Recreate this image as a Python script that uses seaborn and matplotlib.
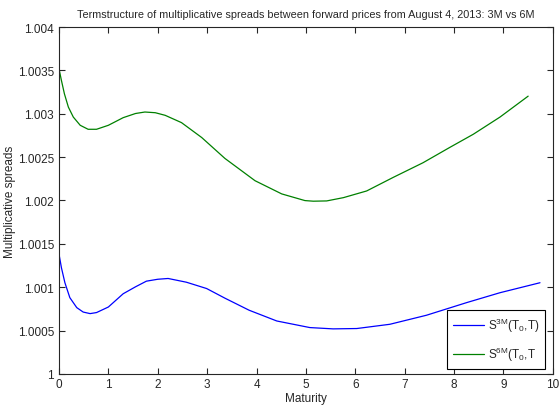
import numpy as np
import pandas as pd
import matplotlib
matplotlib.use('Agg')
import matplotlib.pyplot as plt
from matplotlib.ticker import FuncFormatter
import seaborn as sns

# values
mat_3m = [0.0, 0.05, 0.12, 0.22, 0.36, 0.49, 0.63, 0.76, 1.00, 1.30, 1.55, 1.77,
          2.00, 2.21, 2.58, 2.99, 3.36, 3.85, 4.41, 5.08, 5.55, 6.03, 6.70, 7.44,
          8.25, 8.93, 9.74]
spread_3m = [1.001384, 1.001224, 1.001052, 1.000880, 1.000765, 1.000714, 1.000696,
             1.000708, 1.000772, 1.000925, 1.001005, 1.001070, 1.001092, 1.001101,
             1.001058, 1.000985, 1.000874, 1.000735, 1.000611, 1.000535, 1.000520,
             1.000524, 1.000573, 1.000677, 1.000822, 1.000937, 1.001052]

mat_6m = [0.0, 0.05, 0.11, 0.19, 0.29, 0.43, 0.59, 0.76, 1.00, 1.30, 1.55, 1.74,
          1.95, 2.15, 2.48, 2.89, 3.36, 3.97, 4.51, 4.98, 5.15, 5.42, 5.76, 6.23,
          6.77, 7.37, 7.91, 8.39, 8.93, 9.50]
spread_6m = [1.003520, 1.003383, 1.003230, 1.003077, 1.002962, 1.002867, 1.002821,
             1.002821, 1.002867, 1.002955, 1.003003, 1.003020, 1.003012, 1.002982,
             1.002898, 1.002726, 1.002485, 1.002228, 1.002076, 1.001999, 1.001992,
             1.001995, 1.002033, 1.002110, 1.002267, 1.002435, 1.002611, 1.002764,
             1.002962, 1.003203]

labels = [r'S$^{\mathrm{3M}}$(T$_{\mathrm{0}}$,T)', r'S$^{\mathrm{6M}}$(T$_{\mathrm{0}}$,T']
colors = ['#0000ff', '#008000']

df = pd.concat([
    pd.DataFrame({'Maturity': mat_3m, 'Spread': spread_3m, 'Series': labels[0]}),
    pd.DataFrame({'Maturity': mat_6m, 'Spread': spread_6m, 'Series': labels[1]}),
])

sns.set_style('ticks')
plt.rcParams['font.family'] = ['Liberation Sans', 'DejaVu Sans']
plt.rcParams['mathtext.fontset'] = 'custom'
plt.rcParams['mathtext.rm'] = 'Liberation Sans'
plt.rcParams['xtick.direction'] = 'in'
plt.rcParams['ytick.direction'] = 'in'
plt.rcParams['xtick.top'] = True
plt.rcParams['ytick.right'] = True

fig = plt.figure(figsize=(5.59, 4.06), dpi=100)
ax = fig.add_axes([0.1055, 0.0764, 0.8835, 0.8546])

sns.lineplot(data=df, x='Maturity', y='Spread', hue='Series', palette=colors,
             linewidth=0.9, sort=False, estimator=None, ax=ax)

ax.set_xlim(0, 10)
ax.set_ylim(1, 1.004)
ax.set_xticks(np.arange(0, 11, 1))
ax.set_yticks(np.arange(1, 1.00401, 0.0005))
ax.yaxis.set_major_formatter(FuncFormatter(lambda v, p: f'{v:g}'))
ax.tick_params(labelsize=8.5, length=4, width=0.8, colors='#262626')
ax.tick_params(axis='y', pad=3.6)
ax.tick_params(axis='x', pad=3)
for s in ax.spines.values():
    s.set_linewidth(0.8)
    s.set_color('#262626')

ax.set_title('Termstructure of multiplicative spreads between forward prices from August 4, 2013: 3M vs 6M',
             fontsize=7.8, pad=7)
ax.set_xlabel('Maturity', fontsize=8.5, labelpad=1)
ax.set_ylabel('Multiplicative spreads', fontsize=8.5, labelpad=1.5)

leg = ax.legend(loc='lower right', bbox_to_anchor=(0.984, 0.0144), borderaxespad=0,
                fontsize=8.5, frameon=True, fancybox=False, edgecolor='black',
                framealpha=1, handlelength=2.6, labelspacing=0.9, handletextpad=0.3,
                borderpad=0.5)
leg.get_frame().set_linewidth(0.8)

fig.savefig('out.png', dpi=100)
